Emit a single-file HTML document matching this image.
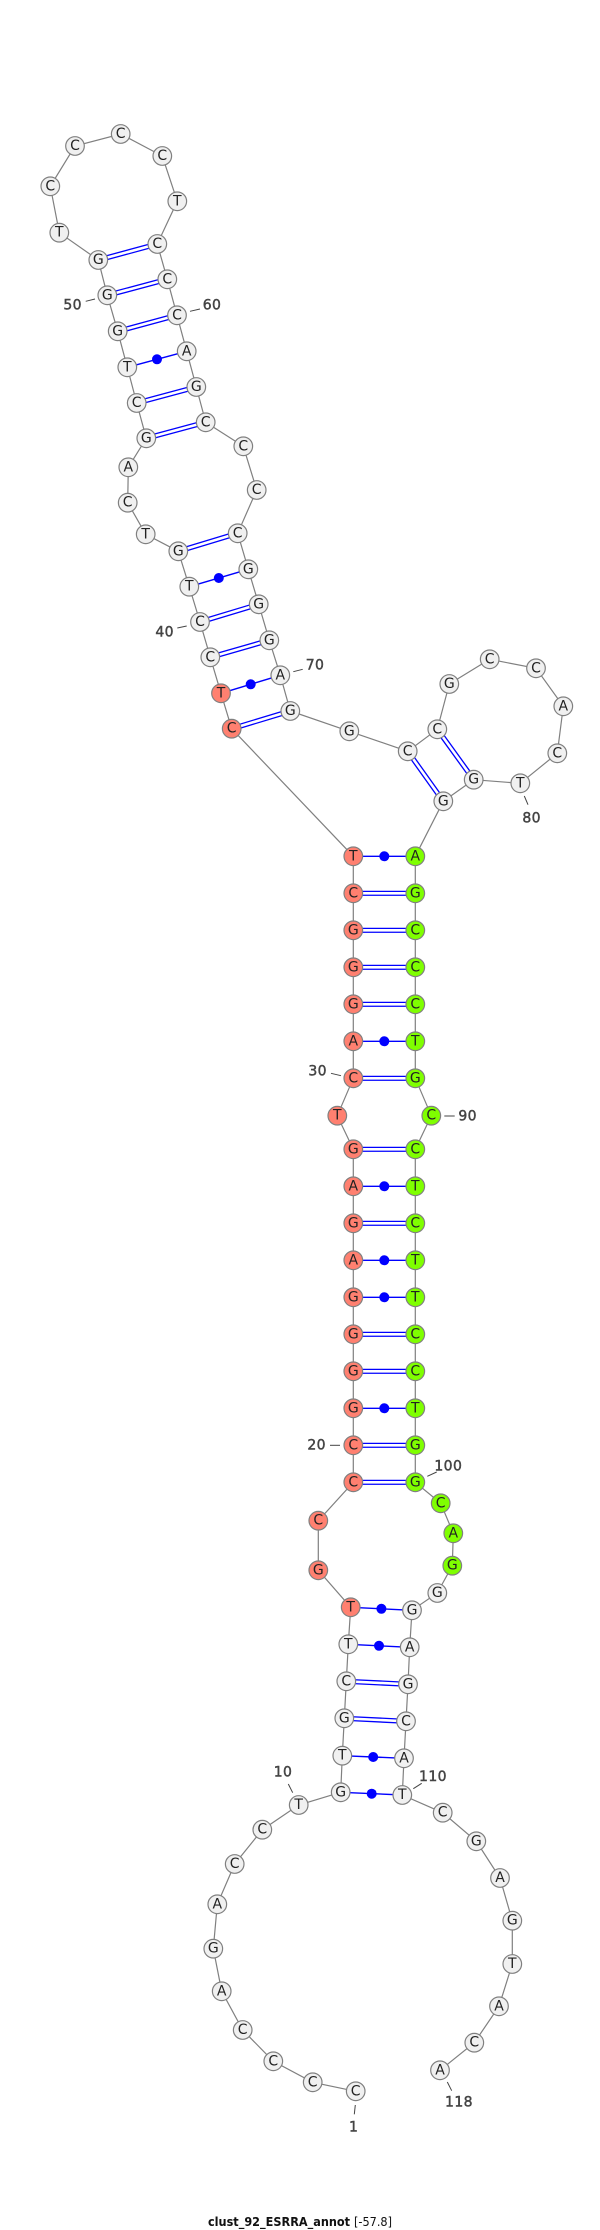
<!DOCTYPE html>
<html><head><meta charset="utf-8"><style>
html,body{margin:0;padding:0;background:#fff;width:600px;height:2230px;overflow:hidden}
svg{display:block}
.n circle{fill:#f0f0f0;stroke:#808080;stroke-width:1.2}
.r circle{fill:#ff8070;stroke:#808080;stroke-width:1.2}
.g circle{fill:#7fff00;stroke:#808080;stroke-width:1.2}
.n text,.r text,.g text{font:14px "DejaVu Sans",sans-serif;fill:#222;text-anchor:middle;dominant-baseline:central}
.l text{font:14px "DejaVu Sans",sans-serif;fill:#444;stroke:#444;stroke-width:.45;text-anchor:middle;dominant-baseline:central;letter-spacing:.4px}
.l line{stroke:#444;stroke-width:1}
</style></head><body>
<svg width="600" height="2230" viewBox="0 0 600 2230" xmlns="http://www.w3.org/2000/svg">
<polyline fill="none" stroke="#808080" stroke-width="1.2" points="355.7,2091.3 312.7,2082.3 273.3,2061.3 242.7,2030 221.7,1991.3 213.3,1948.7 217.3,1904.3 234.7,1864 262.3,1829.7 298.7,1805 340.7,1792.3 342.3,1755.7 344.3,1718.3 346.3,1681.3 348.3,1644.3 350.7,1607.3 318.3,1570.3 318.3,1520.7 353.3,1482.3 353.3,1445.3 353.3,1408.3 353.3,1371.3 353.3,1334.3 353.3,1297.3 353.3,1260.3 353.3,1223.3 353.3,1186.3 353.3,1149.3 337.3,1115.7 353.3,1078.3 353.3,1041.3 353.3,1004.3 353.3,967.3 353.3,930.3 353.3,893.3 353.3,856.3 231.7,728.7 221,693.3 210.3,657.3 200,622 189.3,586.7 178.3,551.3 145.7,534.3 127.7,502.7 128.3,467.3 146.3,438.3 136.7,403 127.3,367.3 117.7,331.3 107.3,295.3 98.3,260 59.3,232.7 50.3,186.3 75,146 120.7,134 162.3,156 177.3,201.3 157.3,244 167.3,279.3 177,315.3 186.7,351.3 196.3,387 205.7,422.3 243.3,446.3 256.7,490 237.7,533.3 248.3,569.3 258.7,604.3 269.3,640.3 280.3,675.3 290.3,711 349.3,731.3 407.7,751.3 437.3,729.3 449.3,684 489.7,659.3 536,668.3 563.3,706.3 557.3,753.3 520.3,783.3 473.7,779.7 443.3,801.3 415.3,856.3 415.3,893.3 415.3,930.3 415.3,967.3 415.3,1004.3 415.3,1041.3 415.3,1078.3 431.3,1115.7 415.3,1149.3 415.3,1186.3 415.3,1223.3 415.3,1260.3 415.3,1297.3 415.3,1334.3 415.3,1371.3 415.3,1408.3 415.3,1445.3 415.3,1482.3 440.7,1503.3 453.3,1533.3 452.3,1565.7 437.3,1593 412,1610.3 409.7,1647.3 408,1684.3 406,1721.3 404,1758.3 402.3,1795 442.7,1812.7 476.3,1841.3 500,1878 512.3,1920.7 512.3,1964 499,2006.3 474.3,2042.7 440,2070.3"/>
<defs><g id="dbl">
<line x1="344.3" y1="1718.3" x2="406" y2="1721.3"/><line x1="346.3" y1="1681.3" x2="408" y2="1684.3"/>
<line x1="353.3" y1="1482.3" x2="415.3" y2="1482.3"/><line x1="353.3" y1="1445.3" x2="415.3" y2="1445.3"/>
<line x1="353.3" y1="1371.3" x2="415.3" y2="1371.3"/><line x1="353.3" y1="1334.3" x2="415.3" y2="1334.3"/>
<line x1="353.3" y1="1223.3" x2="415.3" y2="1223.3"/><line x1="353.3" y1="1149.3" x2="415.3" y2="1149.3"/>
<line x1="353.3" y1="1078.3" x2="415.3" y2="1078.3"/><line x1="353.3" y1="1004.3" x2="415.3" y2="1004.3"/>
<line x1="353.3" y1="967.3" x2="415.3" y2="967.3"/><line x1="353.3" y1="930.3" x2="415.3" y2="930.3"/>
<line x1="353.3" y1="893.3" x2="415.3" y2="893.3"/>
<line x1="231.7" y1="728.7" x2="290.3" y2="711"/><line x1="210.3" y1="657.3" x2="269.3" y2="640.3"/>
<line x1="200" y1="622" x2="258.7" y2="604.3"/><line x1="178.3" y1="551.3" x2="237.7" y2="533.3"/>
<line x1="146.3" y1="438.3" x2="205.7" y2="422.3"/><line x1="136.7" y1="403" x2="196.3" y2="387"/>
<line x1="117.7" y1="331.3" x2="177" y2="315.3"/><line x1="107.3" y1="295.3" x2="167.3" y2="279.3"/>
<line x1="98.3" y1="260" x2="157.3" y2="244"/>
<line x1="407.7" y1="751.3" x2="443.3" y2="801.3"/><line x1="437.3" y1="729.3" x2="473.7" y2="779.7"/>
</g></defs>
<use href="#dbl" stroke="#0000ff" stroke-width="5.2"/>
<use href="#dbl" stroke="#ffffff" stroke-width="2.6"/>
<g stroke="#0000ff" stroke-width="1.4">
<line x1="340.7" y1="1792.3" x2="402.7" y2="1795"/><line x1="342.3" y1="1755.7" x2="404" y2="1758.3"/>
<line x1="348.3" y1="1644.3" x2="409.7" y2="1647.3"/><line x1="350.7" y1="1607.3" x2="412" y2="1610.3"/>
<line x1="353.3" y1="1408.3" x2="415.3" y2="1408.3"/><line x1="353.3" y1="1297.3" x2="415.3" y2="1297.3"/>
<line x1="353.3" y1="1260.3" x2="415.3" y2="1260.3"/><line x1="353.3" y1="1186.3" x2="415.3" y2="1186.3"/>
<line x1="353.3" y1="1041.3" x2="415.3" y2="1041.3"/><line x1="353.3" y1="856.3" x2="415.3" y2="856.3"/>
<line x1="221" y1="693.3" x2="280.3" y2="675.3"/><line x1="189.3" y1="586.7" x2="248.3" y2="569.3"/>
<line x1="127.3" y1="367.3" x2="186.7" y2="351.3"/>
</g>
<g fill="#0000ff">
<circle cx="371.7" cy="1793.7" r="5"/><circle cx="373.2" cy="1757" r="5"/><circle cx="379" cy="1645.8" r="5"/><circle cx="381.4" cy="1608.8" r="5"/>
<circle cx="384.3" cy="1408.3" r="5"/><circle cx="384.3" cy="1297.3" r="5"/><circle cx="384.3" cy="1260.3" r="5"/><circle cx="384.3" cy="1186.3" r="5"/>
<circle cx="384.3" cy="1041.3" r="5"/><circle cx="384.3" cy="856.3" r="5"/>
<circle cx="250.7" cy="684.3" r="5"/><circle cx="218.8" cy="578" r="5"/><circle cx="157" cy="359.3" r="5"/>
</g>
<g class="n">
<circle cx="355.7" cy="2091.3" r="9.3"/><text x="355.7" y="2091.3">C</text>
<circle cx="312.7" cy="2082.3" r="9.3"/><text x="312.7" y="2082.3">C</text>
<circle cx="273.3" cy="2061.3" r="9.3"/><text x="273.3" y="2061.3">C</text>
<circle cx="242.7" cy="2030" r="9.3"/><text x="242.7" y="2030">C</text>
<circle cx="221.7" cy="1991.3" r="9.3"/><text x="221.7" y="1991.3">A</text>
<circle cx="213.3" cy="1948.7" r="9.3"/><text x="213.3" y="1948.7">G</text>
<circle cx="217.3" cy="1904.3" r="9.3"/><text x="217.3" y="1904.3">A</text>
<circle cx="234.7" cy="1864" r="9.3"/><text x="234.7" y="1864">C</text>
<circle cx="262.3" cy="1829.7" r="9.3"/><text x="262.3" y="1829.7">C</text>
<circle cx="298.7" cy="1805" r="9.3"/><text x="298.7" y="1805">T</text>
<circle cx="340.7" cy="1792.3" r="9.3"/><text x="340.7" y="1792.3">G</text>
<circle cx="342.3" cy="1755.7" r="9.3"/><text x="342.3" y="1755.7">T</text>
<circle cx="344.3" cy="1718.3" r="9.3"/><text x="344.3" y="1718.3">G</text>
<circle cx="346.3" cy="1681.3" r="9.3"/><text x="346.3" y="1681.3">C</text>
<circle cx="348.3" cy="1644.3" r="9.3"/><text x="348.3" y="1644.3">T</text>
<circle cx="210.3" cy="657.3" r="9.3"/><text x="210.3" y="657.3">C</text>
<circle cx="200" cy="622" r="9.3"/><text x="200" y="622">C</text>
<circle cx="189.3" cy="586.7" r="9.3"/><text x="189.3" y="586.7">T</text>
<circle cx="178.3" cy="551.3" r="9.3"/><text x="178.3" y="551.3">G</text>
<circle cx="145.7" cy="534.3" r="9.3"/><text x="145.7" y="534.3">T</text>
<circle cx="127.7" cy="502.7" r="9.3"/><text x="127.7" y="502.7">C</text>
<circle cx="128.3" cy="467.3" r="9.3"/><text x="128.3" y="467.3">A</text>
<circle cx="146.3" cy="438.3" r="9.3"/><text x="146.3" y="438.3">G</text>
<circle cx="136.7" cy="403" r="9.3"/><text x="136.7" y="403">C</text>
<circle cx="127.3" cy="367.3" r="9.3"/><text x="127.3" y="367.3">T</text>
<circle cx="117.7" cy="331.3" r="9.3"/><text x="117.7" y="331.3">G</text>
<circle cx="107.3" cy="295.3" r="9.3"/><text x="107.3" y="295.3">G</text>
<circle cx="98.3" cy="260" r="9.3"/><text x="98.3" y="260">G</text>
<circle cx="59.3" cy="232.7" r="9.3"/><text x="59.3" y="232.7">T</text>
<circle cx="50.3" cy="186.3" r="9.3"/><text x="50.3" y="186.3">C</text>
<circle cx="75" cy="146" r="9.3"/><text x="75" y="146">C</text>
<circle cx="120.7" cy="134" r="9.3"/><text x="120.7" y="134">C</text>
<circle cx="162.3" cy="156" r="9.3"/><text x="162.3" y="156">C</text>
<circle cx="177.3" cy="201.3" r="9.3"/><text x="177.3" y="201.3">T</text>
<circle cx="157.3" cy="244" r="9.3"/><text x="157.3" y="244">C</text>
<circle cx="167.3" cy="279.3" r="9.3"/><text x="167.3" y="279.3">C</text>
<circle cx="177" cy="315.3" r="9.3"/><text x="177" y="315.3">C</text>
<circle cx="186.7" cy="351.3" r="9.3"/><text x="186.7" y="351.3">A</text>
<circle cx="196.3" cy="387" r="9.3"/><text x="196.3" y="387">G</text>
<circle cx="205.7" cy="422.3" r="9.3"/><text x="205.7" y="422.3">C</text>
<circle cx="243.3" cy="446.3" r="9.3"/><text x="243.3" y="446.3">C</text>
<circle cx="256.7" cy="490" r="9.3"/><text x="256.7" y="490">C</text>
<circle cx="237.7" cy="533.3" r="9.3"/><text x="237.7" y="533.3">C</text>
<circle cx="248.3" cy="569.3" r="9.3"/><text x="248.3" y="569.3">G</text>
<circle cx="258.7" cy="604.3" r="9.3"/><text x="258.7" y="604.3">G</text>
<circle cx="269.3" cy="640.3" r="9.3"/><text x="269.3" y="640.3">G</text>
<circle cx="280.3" cy="675.3" r="9.3"/><text x="280.3" y="675.3">A</text>
<circle cx="290.3" cy="711" r="9.3"/><text x="290.3" y="711">G</text>
<circle cx="349.3" cy="731.3" r="9.3"/><text x="349.3" y="731.3">G</text>
<circle cx="407.7" cy="751.3" r="9.3"/><text x="407.7" y="751.3">C</text>
<circle cx="437.3" cy="729.3" r="9.3"/><text x="437.3" y="729.3">C</text>
<circle cx="449.3" cy="684" r="9.3"/><text x="449.3" y="684">G</text>
<circle cx="489.7" cy="659.3" r="9.3"/><text x="489.7" y="659.3">C</text>
<circle cx="536" cy="668.3" r="9.3"/><text x="536" y="668.3">C</text>
<circle cx="563.3" cy="706.3" r="9.3"/><text x="563.3" y="706.3">A</text>
<circle cx="557.3" cy="753.3" r="9.3"/><text x="557.3" y="753.3">C</text>
<circle cx="520.3" cy="783.3" r="9.3"/><text x="520.3" y="783.3">T</text>
<circle cx="473.7" cy="779.7" r="9.3"/><text x="473.7" y="779.7">G</text>
<circle cx="443.3" cy="801.3" r="9.3"/><text x="443.3" y="801.3">G</text>
<circle cx="437.3" cy="1593" r="9.3"/><text x="437.3" y="1593">G</text>
<circle cx="412" cy="1610.3" r="9.3"/><text x="412" y="1610.3">G</text>
<circle cx="409.7" cy="1647.3" r="9.3"/><text x="409.7" y="1647.3">A</text>
<circle cx="408" cy="1684.3" r="9.3"/><text x="408" y="1684.3">G</text>
<circle cx="406" cy="1721.3" r="9.3"/><text x="406" y="1721.3">C</text>
<circle cx="404" cy="1758.3" r="9.3"/><text x="404" y="1758.3">A</text>
<circle cx="402.3" cy="1795" r="9.3"/><text x="402.3" y="1795">T</text>
<circle cx="442.7" cy="1812.7" r="9.3"/><text x="442.7" y="1812.7">C</text>
<circle cx="476.3" cy="1841.3" r="9.3"/><text x="476.3" y="1841.3">G</text>
<circle cx="500" cy="1878" r="9.3"/><text x="500" y="1878">A</text>
<circle cx="512.3" cy="1920.7" r="9.3"/><text x="512.3" y="1920.7">G</text>
<circle cx="512.3" cy="1964" r="9.3"/><text x="512.3" y="1964">T</text>
<circle cx="499" cy="2006.3" r="9.3"/><text x="499" y="2006.3">A</text>
<circle cx="474.3" cy="2042.7" r="9.3"/><text x="474.3" y="2042.7">C</text>
<circle cx="440" cy="2070.3" r="9.3"/><text x="440" y="2070.3">A</text>
</g>
<g class="r">
<circle cx="350.7" cy="1607.3" r="9.3"/><text x="350.7" y="1607.3">T</text>
<circle cx="318.3" cy="1570.3" r="9.3"/><text x="318.3" y="1570.3">G</text>
<circle cx="318.3" cy="1520.7" r="9.3"/><text x="318.3" y="1520.7">C</text>
<circle cx="353.3" cy="1482.3" r="9.3"/><text x="353.3" y="1482.3">C</text>
<circle cx="353.3" cy="1445.3" r="9.3"/><text x="353.3" y="1445.3">C</text>
<circle cx="353.3" cy="1408.3" r="9.3"/><text x="353.3" y="1408.3">G</text>
<circle cx="353.3" cy="1371.3" r="9.3"/><text x="353.3" y="1371.3">G</text>
<circle cx="353.3" cy="1334.3" r="9.3"/><text x="353.3" y="1334.3">G</text>
<circle cx="353.3" cy="1297.3" r="9.3"/><text x="353.3" y="1297.3">G</text>
<circle cx="353.3" cy="1260.3" r="9.3"/><text x="353.3" y="1260.3">A</text>
<circle cx="353.3" cy="1223.3" r="9.3"/><text x="353.3" y="1223.3">G</text>
<circle cx="353.3" cy="1186.3" r="9.3"/><text x="353.3" y="1186.3">A</text>
<circle cx="353.3" cy="1149.3" r="9.3"/><text x="353.3" y="1149.3">G</text>
<circle cx="337.3" cy="1115.7" r="9.3"/><text x="337.3" y="1115.7">T</text>
<circle cx="353.3" cy="1078.3" r="9.3"/><text x="353.3" y="1078.3">C</text>
<circle cx="353.3" cy="1041.3" r="9.3"/><text x="353.3" y="1041.3">A</text>
<circle cx="353.3" cy="1004.3" r="9.3"/><text x="353.3" y="1004.3">G</text>
<circle cx="353.3" cy="967.3" r="9.3"/><text x="353.3" y="967.3">G</text>
<circle cx="353.3" cy="930.3" r="9.3"/><text x="353.3" y="930.3">G</text>
<circle cx="353.3" cy="893.3" r="9.3"/><text x="353.3" y="893.3">C</text>
<circle cx="353.3" cy="856.3" r="9.3"/><text x="353.3" y="856.3">T</text>
<circle cx="231.7" cy="728.7" r="9.3"/><text x="231.7" y="728.7">C</text>
<circle cx="221" cy="693.3" r="9.3"/><text x="221" y="693.3">T</text>
</g>
<g class="g">
<circle cx="415.3" cy="856.3" r="9.3"/><text x="415.3" y="856.3">A</text>
<circle cx="415.3" cy="893.3" r="9.3"/><text x="415.3" y="893.3">G</text>
<circle cx="415.3" cy="930.3" r="9.3"/><text x="415.3" y="930.3">C</text>
<circle cx="415.3" cy="967.3" r="9.3"/><text x="415.3" y="967.3">C</text>
<circle cx="415.3" cy="1004.3" r="9.3"/><text x="415.3" y="1004.3">C</text>
<circle cx="415.3" cy="1041.3" r="9.3"/><text x="415.3" y="1041.3">T</text>
<circle cx="415.3" cy="1078.3" r="9.3"/><text x="415.3" y="1078.3">G</text>
<circle cx="431.3" cy="1115.7" r="9.3"/><text x="431.3" y="1115.7">C</text>
<circle cx="415.3" cy="1149.3" r="9.3"/><text x="415.3" y="1149.3">C</text>
<circle cx="415.3" cy="1186.3" r="9.3"/><text x="415.3" y="1186.3">T</text>
<circle cx="415.3" cy="1223.3" r="9.3"/><text x="415.3" y="1223.3">C</text>
<circle cx="415.3" cy="1260.3" r="9.3"/><text x="415.3" y="1260.3">T</text>
<circle cx="415.3" cy="1297.3" r="9.3"/><text x="415.3" y="1297.3">T</text>
<circle cx="415.3" cy="1334.3" r="9.3"/><text x="415.3" y="1334.3">C</text>
<circle cx="415.3" cy="1371.3" r="9.3"/><text x="415.3" y="1371.3">C</text>
<circle cx="415.3" cy="1408.3" r="9.3"/><text x="415.3" y="1408.3">T</text>
<circle cx="415.3" cy="1445.3" r="9.3"/><text x="415.3" y="1445.3">G</text>
<circle cx="415.3" cy="1482.3" r="9.3"/><text x="415.3" y="1482.3">G</text>
<circle cx="440.7" cy="1503.3" r="9.3"/><text x="440.7" y="1503.3">C</text>
<circle cx="453.3" cy="1533.3" r="9.3"/><text x="453.3" y="1533.3">A</text>
<circle cx="452.3" cy="1565.7" r="9.3"/><text x="452.3" y="1565.7">G</text>
</g>
<g class="l">
<line x1="85.7" y1="301.3" x2="95" y2="299"/><text x="72.7" y="305.7">50</text>
<line x1="190" y1="311.3" x2="200" y2="309"/><text x="212" y="305.7">60</text>
<line x1="177.3" y1="628" x2="186.7" y2="626"/><text x="164.7" y="632.7">40</text>
<line x1="293.3" y1="671.7" x2="302.7" y2="669.3"/><text x="315" y="665.7">70</text>
<line x1="524.3" y1="796" x2="528" y2="804.7"/><text x="531.7" y="818.3">80</text>
<line x1="331" y1="1073.3" x2="341" y2="1075.7"/><text x="317.7" y="1071.7">30</text>
<line x1="444.3" y1="1116" x2="454.7" y2="1116"/><text x="467.7" y="1116.3">90</text>
<line x1="330" y1="1445.3" x2="340" y2="1445.3"/><text x="316.7" y="1445.7">20</text>
<line x1="427.3" y1="1476.3" x2="436.7" y2="1472"/><text x="448.3" y="1466.7">100</text>
<line x1="288.3" y1="1784" x2="292.7" y2="1792.7"/><text x="283" y="1772.7">10</text>
<line x1="413.3" y1="1788.7" x2="421.7" y2="1783.3"/><text x="433" y="1777">110</text>
<line x1="355.3" y1="2105" x2="354.3" y2="2114.3"/><text x="353.7" y="2127.7">1</text>
<line x1="447.3" y1="2082" x2="451.7" y2="2090.7"/><text x="459" y="2102.7">118</text>
</g>
<text x="208" y="2226" font-family="DejaVu Sans, sans-serif" font-size="12" font-weight="bold" fill="#111" textLength="184" lengthAdjust="spacingAndGlyphs">clust_92_ESRRA_annot <tspan font-weight="normal">[-57.8]</tspan></text>
</svg>
</body></html>
